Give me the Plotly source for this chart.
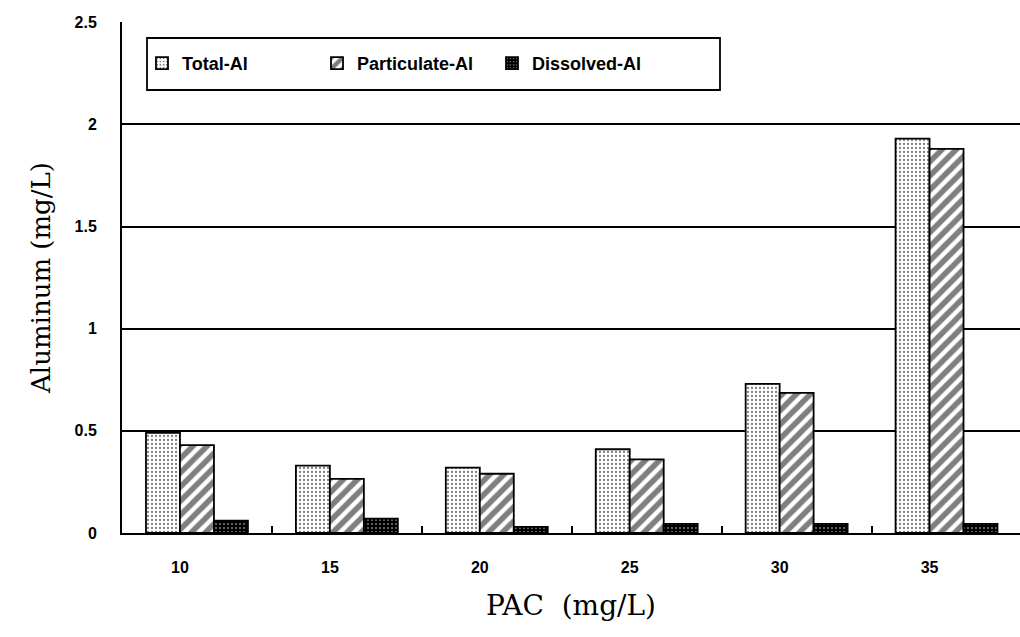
import plotly.graph_objects as go

categories = ["10", "15", "20", "25", "30", "35"]
total_al = [0.49, 0.33, 0.32, 0.41, 0.73, 1.93]
particulate_al = [0.43, 0.265, 0.29, 0.36, 0.686, 1.88]
dissolved_al = [0.06, 0.07, 0.03, 0.045, 0.045, 0.045]
y_ticks = [0, 0.5, 1, 1.5, 2, 2.5]
y_tick_labels = ["0", "0.5", "1", "1.5", "2", "2.5"]

fig = go.Figure()
fig.add_trace(go.Bar(
    x=categories, y=total_al, name="Total-Al",
    marker=dict(color="white", line=dict(color="black", width=1.8),
                pattern=dict(shape=".", fgcolor="black", bgcolor="white", size=4, solidity=0.25)),
))
fig.add_trace(go.Bar(
    x=categories, y=particulate_al, name="Particulate-Al",
    marker=dict(color="white", line=dict(color="black", width=1.8),
                pattern=dict(shape="/", fgcolor="black", bgcolor="white", size=10, solidity=0.55)),
))
fig.add_trace(go.Bar(
    x=categories, y=dissolved_al, name="Dissolved-Al",
    marker=dict(color="black", line=dict(color="black", width=1.8),
                pattern=dict(shape=".", fgcolor="white", bgcolor="black", size=4, solidity=0.2)),
))

# legend frame (px -> paper coords)
plot_l, plot_w, plot_t, plot_h = 122, 898, 22, 511
def px_x(p):
    return (p - plot_l) / plot_w
def px_y(p):
    return (plot_t + plot_h - p) / plot_h

fig.add_shape(type="rect", xref="paper", yref="paper",
              x0=px_x(147), x1=px_x(720), y0=px_y(90), y1=px_y(38),
              line=dict(color="black", width=1.8), fillcolor="white", layer="above")

fig.update_layout(
    width=1020, height=637,
    margin=dict(l=plot_l, r=0, t=plot_t, b=637 - plot_t - plot_h),
    paper_bgcolor="white", plot_bgcolor="white",
    barmode="group", bargap=0.32, bargroupgap=0,
    showlegend=True,
    legend=dict(orientation="h", x=px_x(142), y=px_y(45), xanchor="left", yanchor="top",
                bgcolor="rgba(0,0,0,0)", borderwidth=0,
                font=dict(family="Liberation Sans, Arial", size=18, color="black", weight="bold"),
                itemwidth=30, entrywidth=130, tracegroupgap=0),
    xaxis=dict(
        type="category", range=[-0.5, 5.49],
        showline=True, linecolor="black", linewidth=2,
        ticks="inside", tickson="boundaries", ticklen=7, tickwidth=1.5, tickcolor="black",
        tickfont=dict(family="Liberation Sans, Arial", size=16, color="black", weight="bold"),
        ticklabelshift=-17, ticklabelstandoff=19,
        title=dict(text="PAC\u00a0\u00a0(mg/L)", font=dict(family="DejaVu Serif", size=28, color="black"), standoff=20),
        showgrid=False,
    ),
    yaxis=dict(
        range=[0, 2.501], tickvals=y_ticks, ticktext=y_tick_labels,
        showline=True, linecolor="black", linewidth=2,
        showgrid=True, gridcolor="black", gridwidth=1.8,
        ticks="",
        tickfont=dict(family="Liberation Sans, Arial", size=16, color="black", weight="bold"),
        ticklabelstandoff=20,
        title=dict(text="Aluminum (mg/L)", font=dict(family="DejaVu Serif", size=26, color="black"), standoff=16),
        zeroline=False,
    ),
)

fig.write_html("out.html")
